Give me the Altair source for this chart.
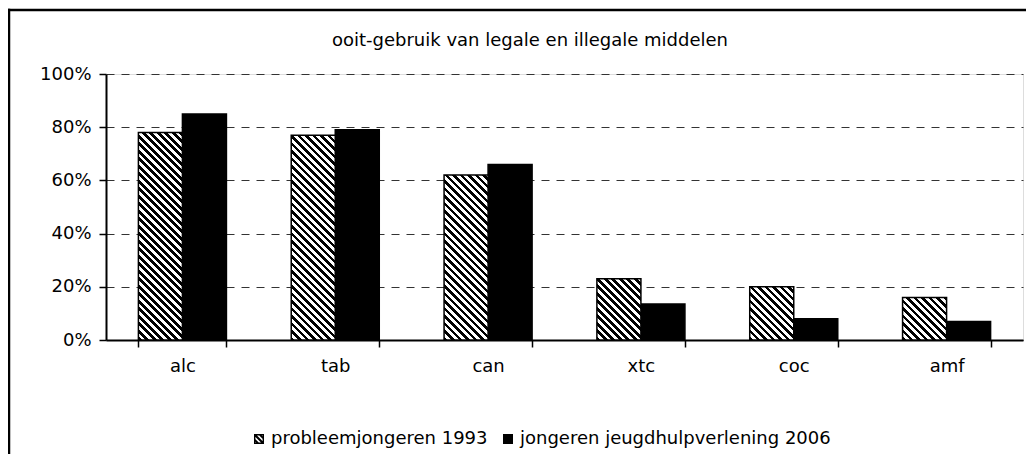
import altair as alt
import pandas as pd

# ---- data ----
categories = ["alc", "tab", "can", "xtc", "coc", "amf"]
series = ["probleemjongeren 1993", "jongeren jeugdhulpverlening 2006"]
values_1993 = [78, 77, 62, 23, 20, 16]
values_2006 = [85, 79, 66, 13.5, 8, 7]
y_ticks = [0, 20, 40, 60, 80, 100]
title_text = "ooit-gebruik van legale en illegale middelen"

FONT = "DejaVu Sans"
FS = 18
W, H = 917, 266
PAD_INNER = 0.424
step = W / len(categories)
bar_w = step * (1 - PAD_INNER) / 2

rows = []
for c, a, b in zip(categories, values_1993, values_2006):
    rows.append({"cat": c, "series": series[0], "value": a})
    rows.append({"cat": c, "series": series[1], "value": b})
df = pd.DataFrame(rows)


def hatch(value, spacing=7.5, frac=0.5):
    """Diagonal '\\' hatch as a hard-stop linear gradient (bbox units)."""
    w = bar_w
    h = max(value / 100.0 * H, 1.0)
    r = h / w
    a = (1 + r) / (1 + r * r)
    n = (w + h) / spacing
    p = 1.0 / n
    stops = []
    k = 0
    while k * p < 1:
        s0 = k * p
        s1 = min(s0 + frac * p, 1.0)
        s2 = min((k + 1) * p, 1.0)
        stops += [
            {"offset": round(s0, 5), "color": "black"},
            {"offset": round(s1, 5), "color": "black"},
            {"offset": round(s1, 5), "color": "white"},
            {"offset": round(s2, 5), "color": "white"},
        ]
        k += 1
    return {"gradient": "linear", "x1": 0, "y1": 1, "x2": round(a, 6),
            "y2": round(1 - a * r, 6), "stops": stops}


HATCH_SYMBOL = ("M-1,-1H1V1H-1Z M-0.72,-0.72V0.72H0.72V-0.72Z "
                "M-1,-0.7L-0.7,-1L1,0.7L0.7,1Z "
                "M-0.25,-1L0.25,-1L1,-0.25L1,0.25Z "
                "M-1,-0.25L0.25,1L-0.25,1L-1,0.25Z")

x_enc = alt.X("cat:N", sort=categories,
              scale=alt.Scale(domain=categories, paddingInner=PAD_INNER,
                              paddingOuter=PAD_INNER / 2),
              axis=alt.Axis(title=None, labelAngle=0, tickBand="extent",
                            grid=False, domainWidth=2, domainColor="black",
                            tickColor="black", tickWidth=1.5, tickSize=7,
                            labelPadding=10, labelFont=FONT, labelFontSize=FS,
                            labelColor="black"))
xo_enc = alt.XOffset("series:N", sort=series,
                     scale=alt.Scale(domain=series, paddingInner=0, paddingOuter=0))
y_enc = alt.Y("value:Q", scale=alt.Scale(domain=[0, 100], nice=False),
              axis=alt.Axis(title=None, values=y_ticks,
                            labelExpr="datum.value + '%'",
                            domainWidth=2, domainColor="black",
                            tickColor="black", tickWidth=1.5, tickSize=7,
                            labelPadding=8, labelFont=FONT, labelFontSize=FS,
                            labelColor="black", grid=True, gridDash=[8, 7],
                            gridColor="#333333", gridWidth=1))

base = alt.Chart(df)
one = alt.Data(values=[{"f": 1}])

# outer chart frame (top and left edges; right/bottom fall outside the picture)
frame_top = alt.Chart(one).mark_rect(fill="black", strokeWidth=0).encode(
    x=alt.value(-98.25), x2=alt.value(1200), y=alt.value(-65.25), y2=alt.value(-62.75))
frame_left = alt.Chart(one).mark_rect(fill="black", strokeWidth=0).encode(
    x=alt.value(-98.25), x2=alt.value(-95.75), y=alt.value(-65.25), y2=alt.value(800))

title_mark = alt.Chart(alt.Data(values=[{"t": title_text}])).mark_text(
    font=FONT, fontSize=FS, color="black", align="center", baseline="middle"
).encode(x=alt.value(424), y=alt.value(-33), text="t:N")

black_bars = base.transform_filter(alt.datum.series == series[1]).mark_bar(
    fill="black", stroke="black", strokeWidth=1.5
).encode(x=x_enc, xOffset=xo_enc, y=y_enc)

hatched_layers = []
for c, v in zip(categories, values_1993):
    hatched_layers.append(
        base.transform_filter(
            (alt.datum.series == series[0]) & (alt.datum.cat == c)
        ).mark_bar(fill=hatch(v), stroke="black", strokeWidth=1.5)
        .encode(x=x_enc, xOffset=xo_enc, y=y_enc)
    )

legend_layer = base.transform_filter("false").mark_point(
    filled=True, color="black", opacity=1
).encode(
    x=x_enc, xOffset=xo_enc, y=y_enc,
    shape=alt.Shape("series:N", sort=series,
                    scale=alt.Scale(domain=series, range=[HATCH_SYMBOL, "square"]),
                    legend=alt.Legend(orient="none", legendX=144, legendY=356,
                                      direction="horizontal", title=None,
                                      labelFont=FONT, labelFontSize=FS,
                                      labelColor="black", labelLimit=0,
                                      symbolSize=100,
                                      symbolFillColor="black",
                                      symbolStrokeWidth=0, labelOffset=3,
                                      columnPadding=11, padding=0))
)

chart = alt.layer(frame_top, frame_left, title_mark, black_bars,
                  *hatched_layers, legend_layer).properties(
    width=W, height=H,
    autosize=alt.AutoSizeParams(type="none"),
    padding={"left": 98, "top": 66, "right": 3, "bottom": 114},
).configure_view(stroke=None).configure(background="white")

chart.save("out.html", embed_options={"renderer": "svg", "actions": False})
